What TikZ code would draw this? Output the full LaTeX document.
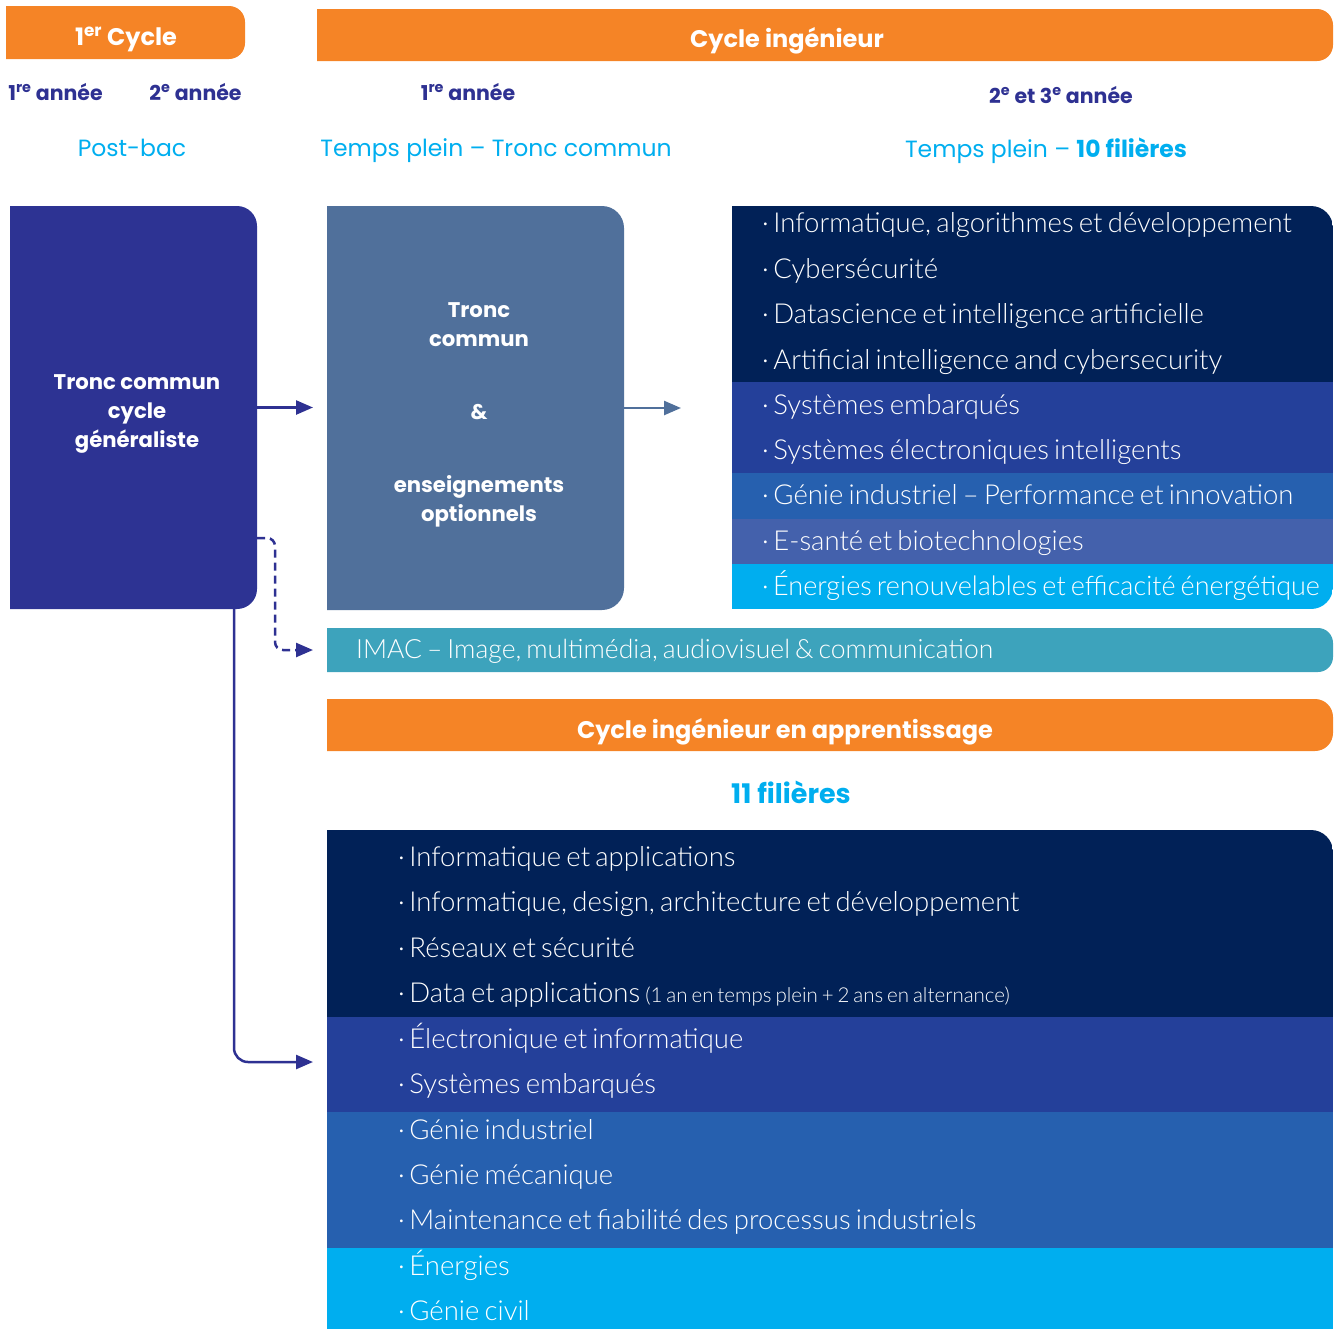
\documentclass[tikz,border=0pt]{standalone}
\usepackage{fontspec}
\setmainfont{Poppins}
\IfFontExistsTF{Lato Light}{\newfontfamily\listfont[WordSpace=0.7]{Lato Light}}{\newfontfamily\listfont[WordSpace=0.7]{Lato}}
\usetikzlibrary{arrows.meta, positioning, backgrounds}

\definecolor{orangec}{HTML}{F58426}
\definecolor{navytxt}{HTML}{2E3192}
\definecolor{cyantxt}{HTML}{00AEEF}
\definecolor{genblue}{HTML}{2D3393}
\definecolor{slate}{HTML}{50709B}
\definecolor{deepnavy}{HTML}{012157}
\definecolor{bandblue}{HTML}{24409A}
\definecolor{midblue}{HTML}{2660AF}
\definecolor{lavblue}{HTML}{4461AC}
\definecolor{teal}{HTML}{3DA3BC}

% box with square left corners and rounded right corners
\newcommand{\rshape}[4]{\path[#4] (#1) -- ([xshift=-#3]#1 -| #2) arc[start angle=90, end angle=0, radius=#3] -- ([yshift=#3]#2) arc[start angle=0, end angle=-90, radius=#3] -- (#1 |- #2) -- cycle;}

\begin{document}
\begin{tikzpicture}[x=1pt, y=1pt, >={Triangle[length=17pt, width=14pt]},
  frame/.style={inner sep=0pt, outer sep=0pt, align=center, text=white},
  head/.style={font=\bfseries\fontsize{24}{28}\selectfont, text=white},
  year/.style={font=\bfseries\fontsize{20.5}{24}\selectfont, text=navytxt},
  track/.style={font=\fontsize{23.5}{28}\selectfont, text=cyantxt},
  boxtext/.style={align=center, text=white, font=\bfseries\fontsize{21.2}{28.9}\selectfont},
  items/.style={font=\listfont\fontsize{27.5}{45.4}\selectfont, text=white, align=flush left, inner sep=0pt, anchor=west, text width=#1},
  items/.default=600pt,
  link/.style={->, line width=2.5pt, draw=navytxt}]
\useasboundingbox (0,0) rectangle (1341,-1328);

% headings
\node[frame, minimum width=239pt, minimum height=53pt] (cyc1) at (125.5,-32.5) {};
\node[head] (cyc1txt) at (126,-39) {1\textsuperscript{er} Cycle};
\node[frame, minimum width=1016pt, minimum height=52pt] (cycing) at (825,-35) {};
\node[head] (cycingtxt) at (787,-41) {Cycle ingénieur};

\node[year] (an1) at (55.5,-92) {1\textsuperscript{re} année};
\node[year] (an2) at (195.5,-92) {2\textsuperscript{e} année};
\node[year] (an3) at (468,-92) {1\textsuperscript{re} année};
\node[year] (an4) at (1061,-95) {2\textsuperscript{e} et 3\textsuperscript{e} année};

\node[track] (postbac) at (132,-148) {Post-bac};
\node[track] (plein1) at (496,-151) {Temps plein – Tronc commun};
\node[track] (plein2) at (1046,-151) {Temps plein – \textbf{10 filières}};

% first cycle and common core
\node[frame, minimum width=247pt, minimum height=403pt] (gen) at (133.5,-407.5) {};
\node[boxtext] (gentxt) at (137,-414) {Tronc commun\\cycle\\généraliste};
\node[frame, minimum width=297pt, minimum height=404pt] (tc) at (475.5,-408) {};
\node[boxtext] (tctxt) at (479,-415) {Tronc\\commun\\[44pt]\&\\[44pt]enseignements\\optionnels};

% full-time tracks
\node[frame, minimum width=601pt, minimum height=176pt] (rb1) at (1032.5,-294) {};
\node[frame, minimum width=601pt, minimum height=91pt, below=0pt of rb1] (rb2) {};
\node[frame, minimum width=601pt, minimum height=46pt, below=0pt of rb2] (rb3) {};
\node[frame, minimum width=601pt, minimum height=45pt, below=0pt of rb3] (rb4) {};
\node[frame, minimum width=601pt, minimum height=45pt, below=0pt of rb4] (rb5) {};
\node[items] (rt1) at (762,-293.5) {·\,Informatique, algorithmes et développement\\·\,Cybersécurité\\·\,Datascience et intelligence artificielle\\·\,Artificial intelligence and cybersecurity};
\node[items] (rt2) at (762,-429.5) {·\,Systèmes embarqués\\·\,Systèmes électroniques intelligents};
\node[items] (rt3) at (762,-495) {·\,Génie industriel – Performance et innovation};
\node[items] (rt4) at (762,-543) {·\,E-santé et biotechnologies};
\node[items, font=\listfont\fontsize{27}{45.4}\selectfont] (rt5) at (762,-586) {·\,Énergies renouvelables et efficacité énergétique};

\node[frame, minimum width=1006pt, minimum height=44pt] (imac) at (830,-650) {};
\node[items=950pt, font=\listfont\fontsize{26.5}{28}\selectfont] (imactxt) at (356,-651) {IMAC – Image, multimédia, audiovisuel \& communication};

% apprenticeship
\node[frame, minimum width=1006pt, minimum height=52pt] (appr) at (830,-725) {};
\node[head] (apprtxt) at (785,-732) {Cycle ingénieur en apprentissage};
\node[track, font=\bfseries\fontsize{27}{30}\selectfont] (onze) at (791,-792) {11 filières};

\node[frame, minimum width=1006pt, minimum height=187pt] (lb1) at (830,-923.5) {};
\node[frame, minimum width=1006pt, minimum height=95pt, below=0pt of lb1] (lb2) {};
\node[frame, minimum width=1006pt, minimum height=136pt, below=0pt of lb2] (lb3) {};
\node[frame, minimum width=1006pt, minimum height=80pt, below=0pt of lb3] (lb4) {};
\coordinate (lowend) at (1333,-1400);
\node[items=900pt] (lt1) at (398,-927) {·\,Informatique et applications\\·\,Informatique, design, architecture et développement\\·\,Réseaux et sécurité\\·\,Data et applications {\fontsize{20.5}{22}\selectfont(1 an en temps plein + 2 ans en alternance)}};
\node[items=900pt] (lt2) at (398,-1060.5) {·\,Électronique et informatique\\·\,Systèmes embarqués};
\node[items=900pt] (lt3) at (398,-1177) {·\,Génie industriel\\·\,Génie mécanique\\·\,Maintenance et fiabilité des processus industriels};
\node[items=900pt] (lt4) at (398,-1285.5) {·\,Énergies\\·\,Génie civil};

% connectors
\coordinate (tcin) at ([xshift=-14pt]tc.west);
\coordinate (listin) at (681,-408);
\coordinate (imacin) at ([xshift=-14pt]imac.west);
\coordinate (lowin) at (313,-1062);
\draw[link] (gen.east) -- (gen.east -| tcin);
\draw[link, draw=slate] (tc.east) -- (listin);
\draw[link, dash pattern=on 8pt off 5pt, rounded corners=8pt] ([yshift=-130.5pt]gen.east) -- ++(18,0) |- (imacin);
\draw[link, rounded corners=14pt] ([xshift=-23pt]gen.south east) |- (lowin);

% fills
\begin{scope}[on background layer]
  \rshape{cyc1.north west}{cyc1.south east}{16pt}{fill=orangec}
  \rshape{cycing.north west}{cycing.south east}{16pt}{fill=orangec}
  \rshape{gen.north west}{gen.south east}{20pt}{fill=genblue}
  \rshape{tc.north west}{tc.south east}{22pt}{fill=slate}
  \rshape{imac.north west}{imac.south east}{15pt}{fill=teal}
  \rshape{appr.north west}{appr.south east}{18pt}{fill=orangec}
  \begin{scope}
    \rshape{rb1.north west}{rb5.south east}{22pt}{clip}
    \fill[deepnavy] (rb1.north west) rectangle (rb1.south east);
    \fill[bandblue] (rb2.north west) rectangle (rb2.south east);
    \fill[midblue] (rb3.north west) rectangle (rb3.south east);
    \fill[lavblue] (rb4.north west) rectangle (rb4.south east);
    \fill[cyantxt] (rb5.north west) rectangle (rb5.south east);
  \end{scope}
  \begin{scope}
    \rshape{lb1.north west}{lowend}{22pt}{clip}
    \fill[deepnavy] (lb1.north west) rectangle (lb1.south east);
    \fill[bandblue] (lb2.north west) rectangle (lb2.south east);
    \fill[midblue] (lb3.north west) rectangle (lb3.south east);
    \fill[cyantxt] (lb4.north west) rectangle (lowend);
  \end{scope}
\end{scope}
\end{tikzpicture}
\end{document}
